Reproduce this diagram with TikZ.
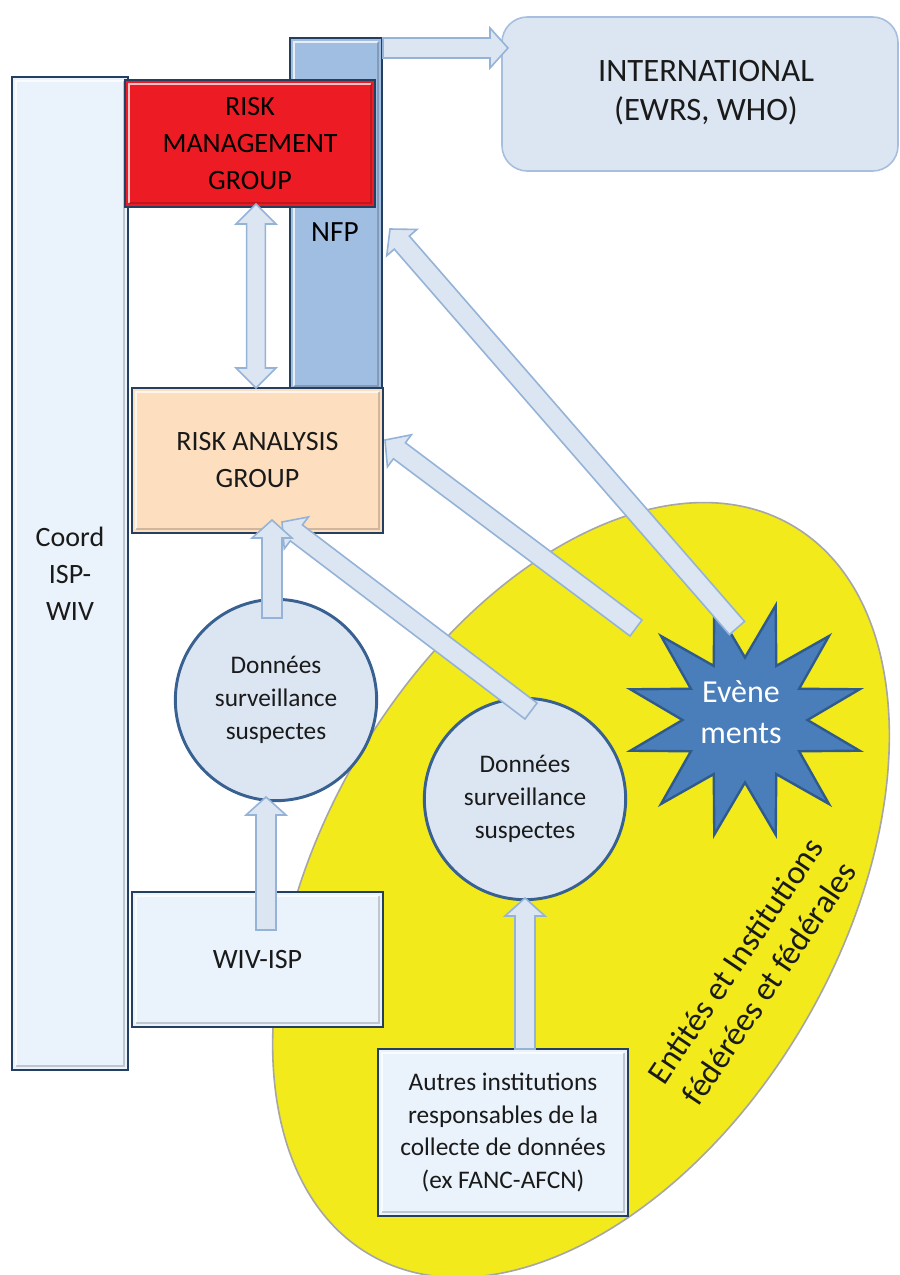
\documentclass[tikz,border=0pt]{standalone}
\usepackage{fontspec}
\setmainfont{Carlito}
\usetikzlibrary{calc,shapes.geometric}
\definecolor{navy}{HTML}{243F60}
\definecolor{paleblue}{HTML}{EAF2FB}
\definecolor{nfpblue}{HTML}{A0BEE2}
\definecolor{rmgred}{HTML}{ED1C24}
\definecolor{ragpeach}{HTML}{FDDFC0}
\definecolor{intlfill}{HTML}{DCE6F2}
\definecolor{intlline}{HTML}{A7BFDE}
\definecolor{circline}{HTML}{386192}
\definecolor{arrline}{HTML}{95B3D7}
\definecolor{starfill}{HTML}{4A7EBB}
\definecolor{starline}{HTML}{2F5A8C}
\definecolor{yel}{HTML}{F2EA1A}
\definecolor{txt}{HTML}{1A1A1A}
\newcommand\fsA{\fontsize{21}{27.75}\selectfont}
\newcommand\fsI{\fontsize{24.5}{29.25}\selectfont}
\newcommand\fsC{\fontsize{19}{24.5}\selectfont}
\newcommand\fsS{\fontsize{24}{30.75}\selectfont}
\newcommand\fsE{\fontsize{25}{30.5}\selectfont}
\tikzset{
  box/.style={rectangle, draw=navy, line width=2pt, inner sep=0pt, align=center, text=txt, font=\fsA,
    path picture={
      \draw[white, opacity=0.75, line width=1.6pt]
        ([xshift=3pt,yshift=3pt]path picture bounding box.south west) --
        ([xshift=3pt,yshift=-3pt]path picture bounding box.north west) --
        ([xshift=-3pt,yshift=-3pt]path picture bounding box.north east);
      \draw[black, opacity=0.18, line width=1.6pt]
        ([xshift=-3pt,yshift=-3pt]path picture bounding box.north east) --
        ([xshift=-3pt,yshift=3pt]path picture bounding box.south east) --
        ([xshift=3pt,yshift=3pt]path picture bounding box.south west);}},
  circ/.style={circle, draw=circline, line width=2.2pt, fill=intlfill, inner sep=0pt,
    minimum size=151pt, align=center, text=txt, font=\fsC},
  barrow/.style={draw=arrline, line width=1.2pt, fill=intlfill, line join=miter},
}
\newcommand\blockarrow[2]{%
  \coordinate (bh) at ($(#2)!13.5pt!(#1)$);
  \draw[barrow] ($(#1)!7.5pt!90:(#2)$) -- ($(bh)!7.5pt!-90:(#1)$) -- ($(bh)!15pt!-90:(#1)$)
    -- (#2) -- ($(bh)!15pt!90:(#1)$) -- ($(bh)!7.5pt!90:(#1)$) -- ($(#1)!7.5pt!-90:(#2)$) -- cycle;}
\newcommand\dblarrow[2]{%
  \coordinate (bh1) at ($(#1)!15pt!(#2)$);
  \coordinate (bh2) at ($(#2)!15pt!(#1)$);
  \draw[barrow] (#1) -- ($(bh1)!15pt!90:(#2)$) -- ($(bh1)!7pt!90:(#2)$) -- ($(bh2)!7pt!-90:(#1)$)
    -- ($(bh2)!15pt!-90:(#1)$) -- (#2) -- ($(bh2)!15pt!90:(#1)$) -- ($(bh2)!7pt!90:(#1)$)
    -- ($(bh1)!7pt!-90:(#2)$) -- ($(bh1)!15pt!-90:(#2)$) -- cycle;}
\begin{document}
\begin{tikzpicture}[x=0.75pt,y=-0.75pt]
\useasboundingbox (0,0) rectangle (900,1275);
\clip (0,0) rectangle (900,1275);
% yellow area
\node[ellipse, draw=gray!70, line width=1.2pt, fill=yel, minimum width=632pt, minimum height=390pt,
  rotate=60] (area) at (581,890) {};
% main boxes (sizes in pt = px * 0.75)
\node[box, fill=paleblue, minimum width=87pt, minimum height=744.75pt] (coord) at (70,573.5) {Coord\\ISP-\\WIV};
\node[box, fill=nfpblue, minimum width=69pt, minimum height=264pt] (nfp) at (336,214) {};
\node[font=\fontsize{22}{26}\selectfont, text=black] (nfplabel) at (335,232) {NFP};
\node[box, fill=rmgred, minimum width=187.5pt, minimum height=95.25pt, text=black] (rmg) at (250,143.5)
  {RISK\\MANAGEMENT\\GROUP};
\node[box, fill=ragpeach, minimum width=188.25pt, minimum height=108.75pt] (rag) at (257.5,460.5)
  {RISK ANALYSIS\\GROUP};
\node[draw=intlline, line width=1.2pt, fill=intlfill, rounded corners=19pt,
  minimum width=297pt, minimum height=115.5pt, inner sep=0pt] (intl) at (700,94) {};
\node[align=center, text=txt, font=\fsI] (intllabel) at (706,93) {INTERNATIONAL\\(EWRS, WHO)};
\node[box, fill=paleblue, minimum width=188.25pt, minimum height=101.25pt] (wiv) at (257.5,959.5) {WIV-ISP};
\node[box, fill=paleblue, minimum width=187.5pt, minimum height=125.25pt, font=\fsC] (autres) at (503,1132.5)
  {Autres institutions\\responsables de la\\collecte de données\\(ex FANC-AFCN)};
% circles
\node[circ] (d1) at (276,700) {Données\\surveillance\\suspectes};
\node[circ] (d2) at (525,799) {Données\\surveillance\\suspectes};
% star
\node[star, star points=12, star point ratio=1.9, minimum size=178pt, shape border rotate=-15,
  fill=starfill, draw=starline, line width=1.8pt, inner sep=0pt] (ev) at (745,720) {};
\node[text=white, font=\fsS, align=center] (evlabel) at (741,712) {Evène\\ments};
% rotated label
\node[rotate=56, font=\fsE, align=center, text=txt] (ent) at (752,972)
  {Entités et Institutions\\fédérées et fédérales};
% arrows
\coordinate (t1) at (383,48);  \coordinate (h1) at (508,48);
\blockarrow{t1}{h1}
\coordinate (t2) at (256,204); \coordinate (h2) at (256,388);
\dblarrow{t2}{h2}
\coordinate (t3) at (737,628); \coordinate (h3) at (390,229);
\blockarrow{t3}{h3}
\coordinate (t4) at (636,628); \coordinate (h4) at (385,440);
\blockarrow{t4}{h4}
\coordinate (t5) at (531,711); \coordinate (h5) at (282,522);
\blockarrow{t5}{h5}
\coordinate (t6) at (272,618); \coordinate (h6) at (272,520);
\blockarrow{t6}{h6}
\coordinate (t7) at (266,930); \coordinate (h7) at (266,797);
\blockarrow{t7}{h7}
\coordinate (t8) at (525,1049); \coordinate (h8) at (525,898);
\blockarrow{t8}{h8}
\end{tikzpicture}
\end{document}
